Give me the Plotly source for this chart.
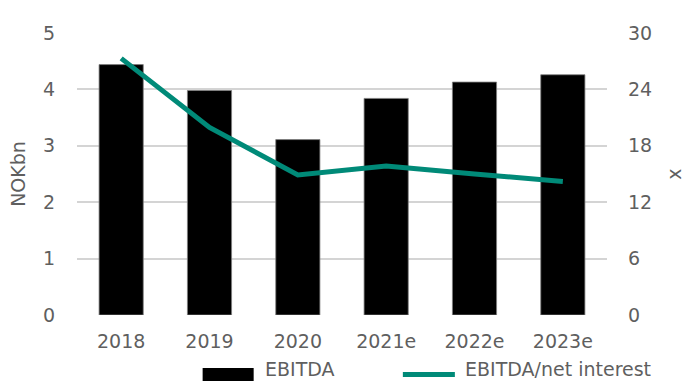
import plotly.graph_objects as go

# EBITDA (NOKbn) and interest coverage (x), actuals and estimates
years = ["2018", "2019", "2020", "2021e", "2022e", "2023e"]
ebitda = [4.44, 3.98, 3.11, 3.84, 4.13, 4.26]
coverage = [27.3, 19.95, 14.9, 15.85, 15.0, 14.2]

left_ticks = [0, 1, 2, 3, 4, 5]
right_ticks = [0, 6, 12, 18, 24, 30]

TEXT = "#5f5f5f"
GRID = "#d4d4d4"
TEAL = "#008a78"
FONT = "DejaVu Sans"
FS = 19

fig = go.Figure()
fig.add_trace(go.Bar(
    x=years, y=ebitda, name="EBITDA",
    marker=dict(color="#000000", line=dict(color="#7f7f7f", width=0.8)),
    width=0.5, yaxis="y",
))
fig.add_trace(go.Scatter(
    x=years, y=coverage, name="EBITDA/net interest", mode="lines",
    line=dict(color=TEAL, width=5), yaxis="y2",
))

fig.update_layout(
    width=693, height=381,
    margin=dict(l=77, r=76, t=33, b=66),
    paper_bgcolor="white", plot_bgcolor="white",
    showlegend=False,
    font=dict(family=FONT, size=FS, color=TEXT),
    xaxis=dict(
        type="category", showgrid=False, zeroline=False,
        showline=False, ticks="", ticklabelstandoff=13,
        tickfont=dict(size=FS, color=TEXT),
    ),
    yaxis=dict(
        range=[0, 5], tickvals=left_ticks, showgrid=True, gridcolor=GRID,
        gridwidth=1.5, zeroline=False, showline=False, ticks="",
        ticklabelstandoff=21, tickfont=dict(size=FS, color=TEXT),
        title=dict(text="NOKbn", standoff=12, font=dict(size=FS, color=TEXT)),
    ),
    yaxis2=dict(
        range=[0, 30], tickvals=right_ticks, overlaying="y", side="right",
        showgrid=False, zeroline=False, showline=False, ticks="",
        ticklabelstandoff=20, tickfont=dict(size=FS, color=TEXT),
        title=dict(text="x", standoff=16, font=dict(size=FS, color=TEXT)),
    ),
)

# Legend drawn below the plot area
def px_x(v):
    return (v - 77) / 540

def px_y(v):
    return (315 - v) / 282

fig.add_shape(type="rect", xref="paper", yref="paper",
              x0=px_x(205), x1=px_x(257), y0=px_y(385), y1=px_y(368),
              fillcolor="#000000", line=dict(width=0))
fig.add_annotation(xref="paper", yref="paper", x=px_x(266), y=px_y(369),
                   text="EBITDA", showarrow=False, xanchor="left", yanchor="middle",
                   font=dict(size=FS, color=TEXT))
fig.add_shape(type="line", xref="paper", yref="paper",
              x0=px_x(409), x1=px_x(462), y0=px_y(374.5), y1=px_y(374.5),
              line=dict(color=TEAL, width=5))
fig.add_annotation(xref="paper", yref="paper", x=px_x(470), y=px_y(369),
                   text="EBITDA/net interest", showarrow=False, xanchor="left",
                   yanchor="middle", font=dict(size=FS, color=TEXT))

fig.write_html("out.html")
